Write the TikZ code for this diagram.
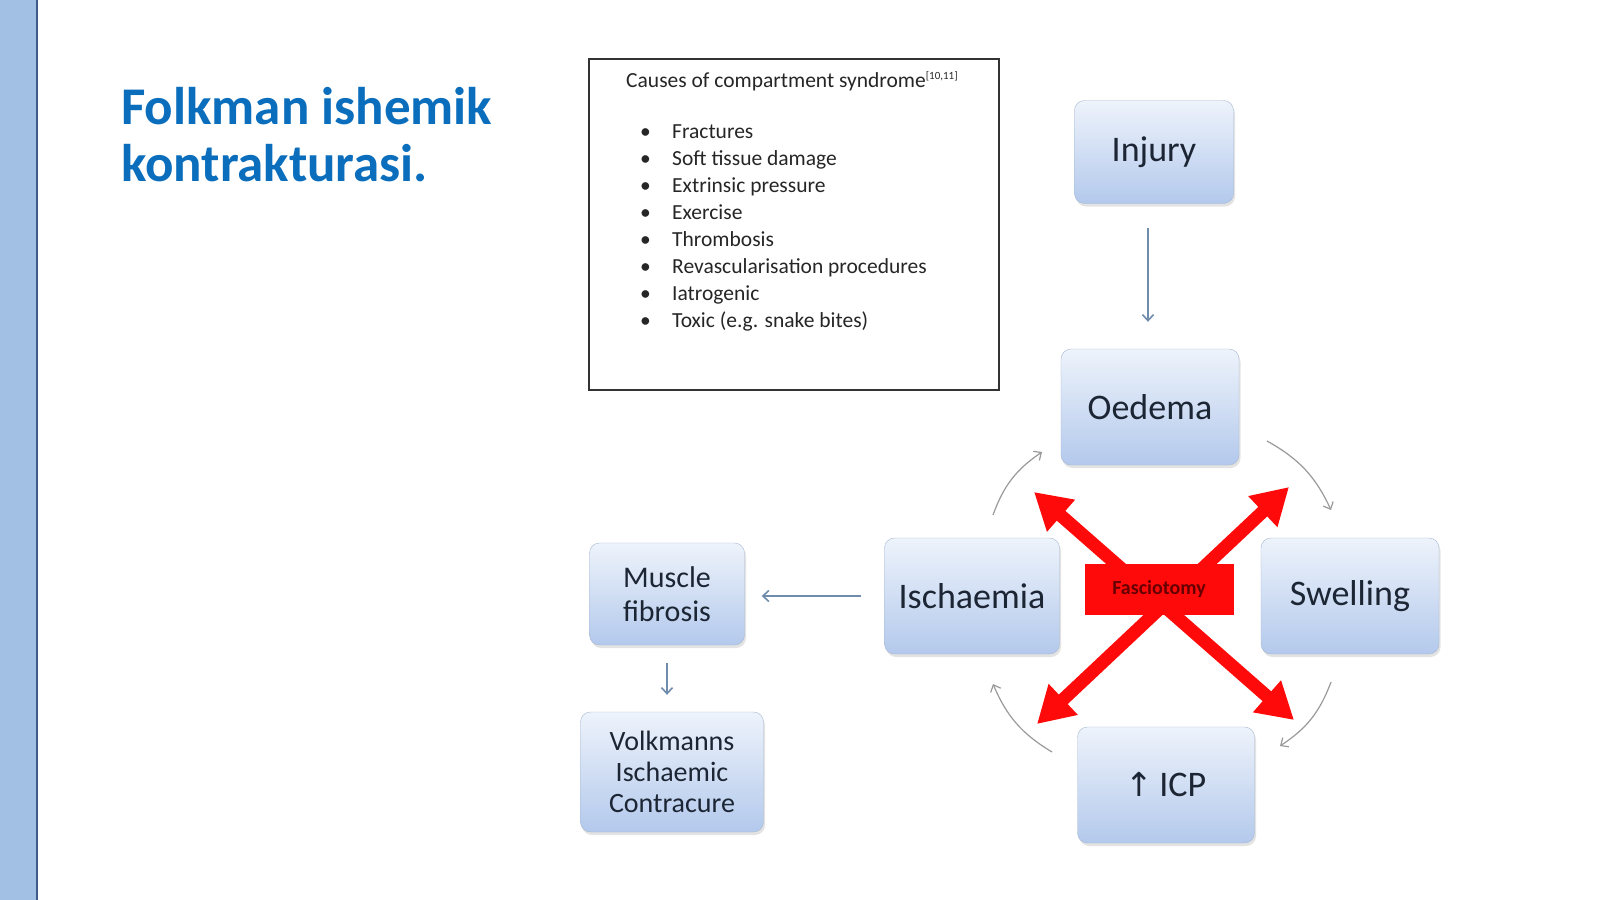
\documentclass[tikz,border=0pt]{standalone}
\usepackage{fontspec}
\setmainfont{Carlito}
\newfontfamily\arrowfont{DejaVu Sans}
\usetikzlibrary{arrows.meta,positioning,shadows}
\definecolor{ttlblue}{HTML}{0A6EBD}
\definecolor{barfill}{HTML}{A2C0E3}
\definecolor{barline}{HTML}{3D5C8A}
\definecolor{nodetop}{HTML}{EEF3FB}
\definecolor{nodebot}{HTML}{B3C9EC}
\definecolor{nodeline}{HTML}{A6B8D2}
\definecolor{nodetext}{HTML}{1C2533}
\definecolor{flowline}{HTML}{6F8CAD}
\definecolor{loopline}{HTML}{9A9A9A}
\definecolor{xred}{HTML}{FF0A0A}
\tikzset{
  stage/.style={draw=nodeline,rounded corners=10pt,top color=nodetop,bottom color=nodebot,align=center,inner sep=2pt,
    text=nodetext,font=\fontsize{36}{40}\selectfont,drop shadow={shadow xshift=1.5pt,shadow yshift=-3pt,opacity=.22}},
  arr/.style={-{Straight Barb[length=6pt,width=11pt]},line width=1.6pt,draw=flowline},
  cyc/.style={-{Straight Barb[length=6pt,width=11pt]},line width=1.2pt,draw=loopline},
  xarr/.style={{Triangle[length=36pt,width=40pt]}-{Triangle[length=36pt,width=40pt]},line width=13pt,draw=xred},
  item/.style={anchor=base west,inner sep=0pt,font=\fontsize{21.5}{24}\selectfont,text=black!85},
}
\begin{document}
\begin{tikzpicture}[x=1pt,y=-1pt]
 \fill[white] (0,0) rectangle (1600,899);
 \useasboundingbox (0,0) rectangle (1600,899);
 \filldraw[fill=barfill,draw=barline,line width=2pt] (-2,-2) rectangle (37,901);
 % title
 \node[anchor=base west,inner sep=0pt,text=ttlblue,font=\fontsize{53}{56}\bfseries] (ttl1) at (121,124) {Folkman ishemik};
 \node[anchor=base west,inner sep=0pt,text=ttlblue,font=\fontsize{53}{56}\bfseries] (ttl2) at (121,181) {kontrakturasi.};
 % causes
 \node[draw=black!80,line width=1.6pt,fill=white,minimum width=410pt,minimum height=331pt,anchor=north west] (causes) at (588,58) {};
 \node[item] (chead) at (626,87) {Causes of compartment syndrome\textsuperscript{\fontsize{11}{11}\selectfont[10,11]}};
 \foreach \t [count=\i] in {Fractures,Soft tissue damage,Extrinsic pressure,Exercise,Thrombosis,Revascularisation procedures,Iatrogenic,Toxic (e.g. snake bites)}{
  \node[item] (bul\i) at (640,138+27*\i-27) {\textbullet};
  \node[item] (cause\i) at (672,138+27*\i-27) {\t};
 }
 % cycle
 \node[stage,minimum width=159pt,minimum height=103pt] (injury) at (1154,152) {Injury};
 \node[stage,minimum width=178pt,minimum height=116pt] (oedema) at (1150,407) {Oedema};
 \node[stage,minimum width=175pt,minimum height=116pt] (isch) at (972,596) {Ischaemia};
 \node[stage,minimum width=178pt,minimum height=116pt] (swell) at (1350,596) {Swelling};
 \node[stage,minimum width=177pt,minimum height=116pt] (icp) at (1166,785) {{\arrowfont\fontsize{33}{40}\selectfont ↑}\,ICP};
 \node[stage,minimum width=155pt,minimum height=102pt,font=\fontsize{30}{34}\selectfont] (fibro) at (667,594) {Muscle\\fibrosis};
 \node[stage,minimum width=183pt,minimum height=120pt,font=\fontsize{28}{31}\selectfont] (volk) at (672,772) {Volkmanns\\Ischaemic\\Contracure};
 \draw[arr,shorten <=24pt,shorten >=27pt] (injury.south-|1148,0) -- (oedema.north-|1148,0);
 \draw[arr,shorten <=23pt,shorten >=17pt] (isch.west) -- (fibro.east|-isch.west);
 \draw[arr,shorten <=18pt,shorten >=17pt] (fibro.south) -- (volk.north-|fibro.south);
 \coordinate (c1) at (993,515); \coordinate (c2) at (1042,452);
 \coordinate (c3) at (1267,441); \coordinate (c4) at (1331,510);
 \coordinate (c5) at (1331,682); \coordinate (c6) at (1280,746);
 \coordinate (c7) at (1052,752); \coordinate (c8) at (993,684);
 \draw[cyc] (c1) to[bend left=18] (c2);
 \draw[cyc] (c3) to[bend left=18] (c4);
 \draw[cyc] (c5) to[bend left=18] (c6);
 \draw[cyc] (c7) to[bend left=18] (c8);
 % red cross
 \coordinate (xa) at (1034,492); \coordinate (xb) at (1294,720);
 \coordinate (xc) at (1289,487); \coordinate (xd) at (1037,724);
 \draw[xarr] (xa) -- (xb);
 \draw[xarr] (xc) -- (xd);
 \node[fill=xred,minimum width=149pt,minimum height=51pt,text=red!40!black,font=\fontsize{20}{20}\bfseries] (fasc) at (1159,589) {Fasciotomy};
\end{tikzpicture}
\end{document}
